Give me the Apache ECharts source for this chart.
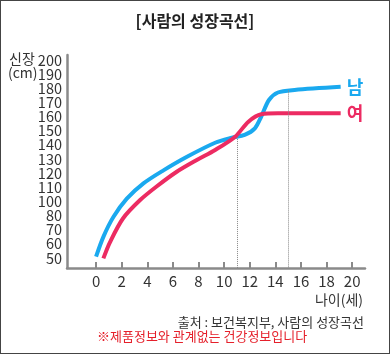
<!DOCTYPE html>
<html>
<head>
<meta charset="utf-8">
<script src="https://cdn.jsdelivr.net/npm/echarts@6/dist/echarts.min.js"></script>
<style>
  html, body { margin: 0; padding: 0; background: #fff; }
  #chart { width: 390px; height: 354px; box-sizing: border-box; border: 1px solid #444; }
</style>
</head>
<body>
<div id="chart"></div>
<script>
const boyColor = '#1aa9ef';
const girlColor = '#ec2b62';
const textColor = '#333';
const axisColor = '#8a8a8a';

// [age, height cm]
const boyHeights = [[0, 51], [0.57, 65], [1.35, 79], [2.4, 102], [3.7, 112.8], [5.26, 122], [7.1, 131.6], [9.3, 141.5], [10.6, 145], [11.6, 147], [12.4, 151.7], [12.9, 160], [13.5, 171.7], [14.2, 177], [15.5, 178.8], [19.1, 181]];
const girlHeights = [[0.57, 49.8], [1.1, 61.5], [2.1, 78], [3.44, 101], [4.7, 110.4], [6.3, 121], [7.9, 129.5], [9.3, 136.4], [10.86, 145.8], [11.9, 156.4], [12.9, 161.6], [14.2, 162.3], [19.1, 162.3]];
const ageTicks = [0, 2, 4, 6, 8, 10, 12, 14, 16, 18, 20];
const heightTicks = ['50', '60', '70', '80', '100', '110', '120', '130', '140', '150', '160', '170', '180', '190', '200'];
// dotted guides: [age, height where it meets the curve]
const guides = [[11, 145.5], [15, 178.5]];

const font = '"Noto Sans CJK KR", "Noto Sans", sans-serif';
const chart = echarts.init(document.getElementById('chart'));

var option = {
  animation: false,
  textStyle: { fontFamily: font },
  grid: [
    { left: 66, right: 24, top: 54, bottom: 85 },
    // label strip: spans exactly 50 .. 200 of the main axis
    { left: 66, right: 24, top: 59, bottom: 95 }
  ],
  xAxis: [
    {
      type: 'value',
      min: -2.27,
      max: 21,
      splitLine: { show: false },
      axisLine: { show: true, onZero: false, lineStyle: { color: axisColor, width: 2.5 } },
      axisTick: { show: true, inside: true, length: 6, customValues: ageTicks, lineStyle: { color: axisColor, width: 2 } },
      axisLabel: { customValues: ageTicks, color: textColor, fontSize: 15, margin: 6, fontFamily: font }
    },
    { type: 'value', gridIndex: 1, show: false }
  ],
  yAxis: [
    {
      type: 'value',
      min: 43,
      max: 203.5,
      breaks: [{ start: 80, end: 100, gap: 10 }],
      breakArea: { show: false, expandOnClick: false },
      splitLine: { show: false },
      axisLine: { show: false },
      axisTick: { show: false },
      axisLabel: { show: false }
    },
    {
      type: 'value',
      position: 'left',
      min: 0,
      max: 1,
      splitLine: { show: false },
      axisLine: { show: true, onZero: false, lineStyle: { color: axisColor, width: 2.5 } },
      axisTick: { show: false },
      axisLabel: { show: false }
    },
    {
      type: 'category',
      gridIndex: 1,
      data: heightTicks,
      boundaryGap: false,
      axisLine: { show: false },
      axisTick: { show: false },
      axisLabel: { interval: 0, color: textColor, fontSize: 14.5, margin: 5, fontFamily: font }
    }
  ],
  graphic: [
    { type: 'text', left: 'center', top: 12, style: { text: '[사람의 성장곡선]', font: 'bold 16px ' + font, fill: '#222' } },
    { type: 'text', left: 8, top: 51, style: { text: '신장', font: '14px ' + font, fill: textColor } },
    { type: 'text', left: 7, top: 65, style: { text: '(cm)', font: '14px ' + font, fill: textColor } },
    { type: 'text', right: 26, top: 292, style: { text: '나이(세)', font: '14px ' + font, fill: textColor } },
    { type: 'text', right: 25, top: 315, style: { text: '출처 : 보건복지부, 사람의 성장곡선', font: '13px ' + font, fill: textColor } },
    { type: 'text', left: 96, top: 329, style: { text: '※제품정보와 관계없는 건강정보입니다', font: '13px ' + font, fill: '#e5202b' } }
  ],
  series: [
    {
      name: '남',
      type: 'line',
      data: boyHeights,
      smooth: 0.3,
      symbol: 'none',
      lineStyle: { color: boyColor, width: 4 },
      endLabel: { show: true, formatter: '남', color: boyColor, fontSize: 18, fontWeight: 'bold', distance: 6, fontFamily: font },
      markLine: {
        silent: true,
        symbol: 'none',
        label: { show: false },
        lineStyle: { color: '#888', type: 'dotted', width: 1 },
        data: guides.map(g => [{ coord: [g[0], g[1]] }, { coord: [g[0], 43] }])
      }
    },
    {
      name: '여',
      type: 'line',
      data: girlHeights,
      smooth: 0.3,
      symbol: 'none',
      lineStyle: { color: girlColor, width: 4 },
      endLabel: { show: true, formatter: '여', color: girlColor, fontSize: 18, fontWeight: 'bold', distance: 6, fontFamily: font }
    }
  ]
};
chart.setOption(option);
</script>
</body>
</html>
